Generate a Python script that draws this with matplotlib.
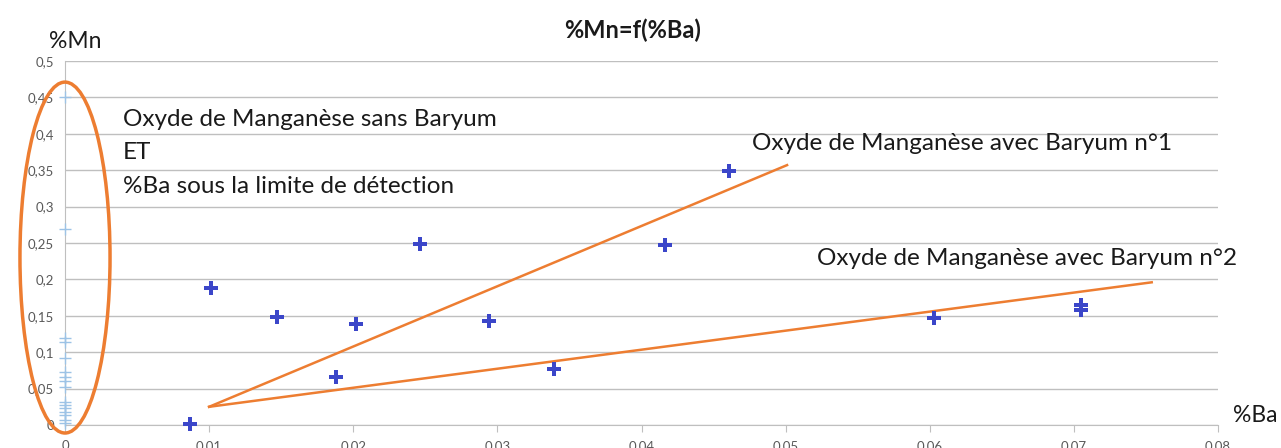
import matplotlib
matplotlib.use("Agg")
import matplotlib.pyplot as plt
from matplotlib.patches import Ellipse
from matplotlib.ticker import FuncFormatter

plt.rcParams['font.family'] = ['Lato', 'DejaVu Sans']

# Samples with Ba detected
ba_values = [0.0087, 0.0101, 0.0147, 0.0188, 0.0202, 0.0246, 0.0294, 0.0339, 0.0416, 0.0461, 0.0603, 0.0705, 0.0705]
mn_values = [0.002, 0.188, 0.148, 0.066, 0.139, 0.249, 0.143, 0.077, 0.247, 0.349, 0.147, 0.158, 0.165]

# Samples with Ba below detection limit (plotted at %Ba = 0)
mn_no_ba = [0.45, 0.269, 0.12, 0.114, 0.092, 0.073, 0.066, 0.061, 0.052,
            0.032, 0.027, 0.023, 0.018, 0.014, 0.007, 0.003]

# Hand-drawn trend lines (start / end points)
line1_x = [0.010, 0.0501]
line1_y = [0.025, 0.357]
line2_x = [0.010, 0.0754]
line2_y = [0.025, 0.196]

x_ticks = [0, 0.01, 0.02, 0.03, 0.04, 0.05, 0.06, 0.07, 0.08]
y_ticks = [0, 0.05, 0.1, 0.15, 0.2, 0.25, 0.3, 0.35, 0.4, 0.45, 0.5]

fig = plt.figure(figsize=(12.81, 4.48), dpi=100)
ax = fig.add_axes([65/1281, 23/448, (1218-65)/1281, (425-61)/448])

ax.set_xlim(0, 0.08)
ax.set_ylim(0, 0.5)
ax.set_xticks(x_ticks)
ax.set_yticks(y_ticks)

def fmt(v, pos):
    s = f"{v:.2f}".rstrip('0').rstrip('.')
    return s.replace('.', ',')

ax.xaxis.set_major_formatter(FuncFormatter(fmt))
ax.yaxis.set_major_formatter(FuncFormatter(fmt))

ax.grid(axis='y', color='#bfbfbf', linewidth=1)
ax.set_axisbelow(True)
for s in ['top', 'right']:
    ax.spines[s].set_visible(False)
ax.spines['left'].set_color('#bfbfbf')
ax.spines['bottom'].set_color('#bfbfbf')
ax.tick_params(axis='y', length=0, labelsize=9.5, labelcolor='#595959', pad=8)
ax.tick_params(axis='x', length=5, color='#bfbfbf', labelsize=9.5, labelcolor='#595959', pad=6)

ax.plot([0]*len(mn_no_ba), mn_no_ba, linestyle='none', marker='+', markersize=9,
        color='#9dc3e6', markeredgewidth=1, clip_on=False, zorder=3)
ax.plot(ba_values, mn_values, linestyle='none', marker='P', markersize=10,
        color='#3b46c9', markeredgewidth=0, clip_on=False, zorder=4)

ax.plot(line1_x, line1_y, color='#ed7d31', linewidth=1.8, zorder=3)
ax.plot(line2_x, line2_y, color='#ed7d31', linewidth=1.8, zorder=3)

ell = Ellipse((0.0, 0.23), width=0.00625, height=0.482, fill=False,
              edgecolor='#ed7d31', linewidth=2.5, clip_on=False, zorder=5)
ax.add_patch(ell)

tk = dict(fontsize=17.5, color='#1a1a1a', va='center', ha='left')
ax.text(0.0040, 0.419, "Oxyde de Manganèse sans Baryum", **tk)
ax.text(0.0040, 0.374, "ET", **tk)
ax.text(0.0040, 0.328, "%Ba sous la limite de détection", **tk)
ax.text(0.0477, 0.387, "Oxyde de Manganèse avec Baryum n°1", **tk)
ax.text(0.0522, 0.229, "Oxyde de Manganèse avec Baryum n°2", **tk)

fig.text(633/1281, 1-30/448, "%Mn=f(%Ba)", fontsize=17, fontweight='bold',
         ha='center', va='center', color='#1a1a1a')
fig.text(75/1281, 1-42/448, "%Mn", fontsize=16.5, ha='center', va='center', color='#1a1a1a')
fig.text(1255/1281, 1-415/448, "%Ba", fontsize=16.5, ha='center', va='center', color='#1a1a1a')

fig.savefig("out.png", dpi=100)
